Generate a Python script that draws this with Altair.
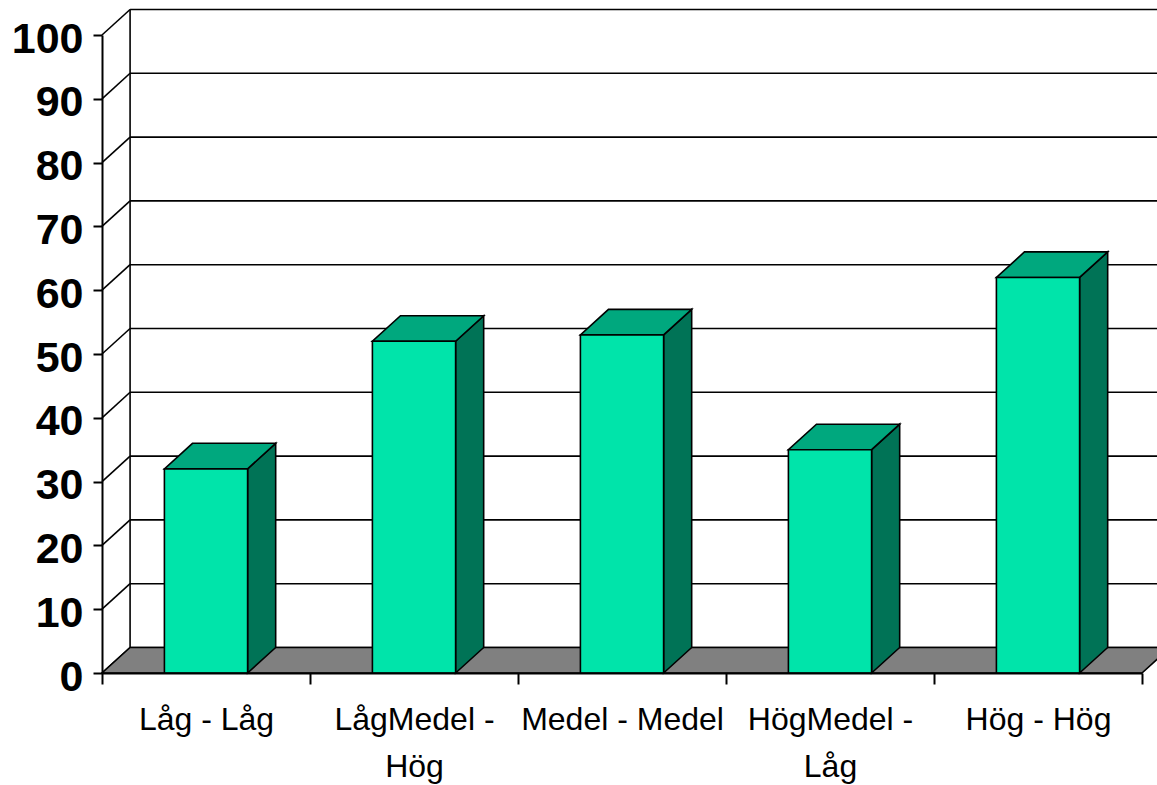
import json
import altair as alt
import pandas as pd

# Chart data
categories = ["Låg - Låg", "LågMedel - Hög", "Medel - Medel", "HögMedel - Låg", "Hög - Hög"]
values = [32, 52, 53, 35, 62]
y_ticks = list(range(0, 101, 10))

# 3D look: depth offsets (x in category units, y in value units) and bar half-width
DX = 0.135
DY = 4.0
HALF = 0.2

FRONT = "#00E4AA"
TOP = "#00A87E"
SIDE = "#007356"
FLOOR = "#808080"
LINE = "#000000"

n = len(categories)


def wrap(label, width=13):
    lines, cur = [], ""
    for word in label.split(" "):
        trial = word if not cur else cur + " " + word
        if len(trial) > width and cur:
            lines.append(cur)
            cur = word
        else:
            cur = trial
    lines.append(cur)
    return lines


label_lines = [wrap(c) for c in categories]
label_expr = json.dumps(label_lines, ensure_ascii=False) + "[datum.value] || ''"

x_scale = alt.Scale(domain=[0, n], nice=False, zero=False)
y_scale = alt.Scale(domain=[0, 100], nice=False, zero=False)

x_axis = alt.Axis(
    values=list(range(n + 1)),
    labelExpr=label_expr,
    labelOffset=104,
    labelFlush=False,
    labelOverlap=False,
    labelBound=False,
    labelLimit=400,
    labelFont="Liberation Sans Narrow, Arial Narrow, Liberation Sans",
    labelFontSize=32,
    labelColor="#000000",
    labelBaseline="alphabetic",
    labelLineHeight=47,
    labelPadding=45,
    tickSize=11,
    tickWidth=2,
    tickColor=LINE,
    domainColor=LINE,
    domainWidth=2,
    grid=False,
    zindex=1,
)
y_axis = alt.Axis(
    values=y_ticks,
    labelFont="Liberation Sans",
    labelFontSize=43,
    labelFontWeight="bold",
    labelColor="#000000",
    labelPadding=10,
    labelOffset=4,
    labelFlush=False,
    labelOverlap=False,
    labelBound=False,
    tickSize=9,
    tickWidth=2,
    tickColor=LINE,
    domainColor=LINE,
    domainWidth=2,
    grid=False,
    zindex=1,
)


def X(field):
    return alt.X(field, scale=x_scale, axis=x_axis, title=None)


def Y(field, **kw):
    return alt.Y(field, scale=y_scale, axis=y_axis, title=None, **kw)


# --- geometry tables built from the values ---
front = pd.DataFrame({
    "bar": list(range(n)),
    "x0": [i + 0.5 - HALF for i in range(n)],
    "x1": [i + 0.5 + HALF for i in range(n)],
    "v": values,
})

top_rows, side_rows = [], []
for i, v in enumerate(values):
    x0, x1 = i + 0.5 - HALF, i + 0.5 + HALF
    top_rows += [
        {"bar": i, "x": x0, "lo": v, "hi": v},
        {"bar": i, "x": x0 + DX, "lo": v, "hi": v + DY},
        {"bar": i, "x": x1, "lo": v, "hi": v + DY},
        {"bar": i, "x": x1 + DX, "lo": v + DY, "hi": v + DY},
    ]
    side_rows += [
        {"bar": i, "x": x1, "lo": 0, "hi": v},
        {"bar": i, "x": x1 + DX, "lo": DY, "hi": v + DY},
    ]
top = pd.DataFrame(top_rows)
side = pd.DataFrame(side_rows)

floor = pd.DataFrame([
    {"x": 0, "lo": 0, "hi": 0},
    {"x": DX, "lo": 0, "hi": DY},
    {"x": n, "lo": 0, "hi": DY},
    {"x": n + DX, "lo": DY, "hi": DY},
])

back_grid = pd.DataFrame({
    "x0": [DX] * len(y_ticks),
    "x1": [n + DX + 0.2] * len(y_ticks),
    "y": [t + DY for t in y_ticks],
})
side_grid = pd.DataFrame({
    "x0": [0] * len(y_ticks),
    "x1": [DX] * len(y_ticks),
    "y0": y_ticks,
    "y1": [t + DY for t in y_ticks],
})
back_edge = pd.DataFrame({"x": [DX], "y0": [DY], "y1": [100 + DY]})

# --- layers ---
grid_layer = alt.Chart(back_grid).mark_rule(color=LINE, strokeWidth=1.6).encode(
    x=X("x0:Q"), x2="x1:Q", y=Y("y:Q"),
)
diag_layer = alt.Chart(side_grid).mark_rule(color=LINE, strokeWidth=1.6).encode(
    x=X("x0:Q"), x2="x1:Q", y=Y("y0:Q"), y2="y1:Q",
)
edge_layer = alt.Chart(back_edge).mark_rule(color=LINE, strokeWidth=1.6).encode(
    x=X("x:Q"), y=Y("y0:Q"), y2="y1:Q",
)
floor_layer = alt.Chart(floor).mark_area(
    color=FLOOR, stroke=LINE, strokeWidth=1.6, opacity=1, interpolate="linear"
).encode(
    x=X("x:Q"), y=Y("lo:Q", stack=False), y2="hi:Q",
)
side_layer = alt.Chart(side).mark_area(
    color=SIDE, stroke=LINE, strokeWidth=1.6, opacity=1, interpolate="linear"
).encode(
    x=X("x:Q"), y=Y("lo:Q", stack=False), y2="hi:Q", detail="bar:N",
)
top_layer = alt.Chart(top).mark_area(
    color=TOP, stroke=LINE, strokeWidth=1.6, opacity=1, interpolate="linear"
).encode(
    x=X("x:Q"), y=Y("lo:Q", stack=False), y2="hi:Q", detail="bar:N",
)
front_layer = alt.Chart(front).mark_rect(
    color=FRONT, stroke=LINE, strokeWidth=1.6
).encode(
    x=X("x0:Q"), x2="x1:Q", y=Y("v:Q"), y2=alt.datum(0),
)

chart = alt.layer(
    grid_layer, diag_layer, edge_layer, floor_layer, side_layer, top_layer, front_layer
).properties(
    width=1040,
    height=638,
    autosize=alt.AutoSizeParams(type="none"),
    padding={"left": 102, "top": 35, "right": 15, "bottom": 112},
    background="#FFFFFF",
).configure_view(stroke=None)

chart.save("out.html", embed_options={"renderer": "svg", "actions": False})
